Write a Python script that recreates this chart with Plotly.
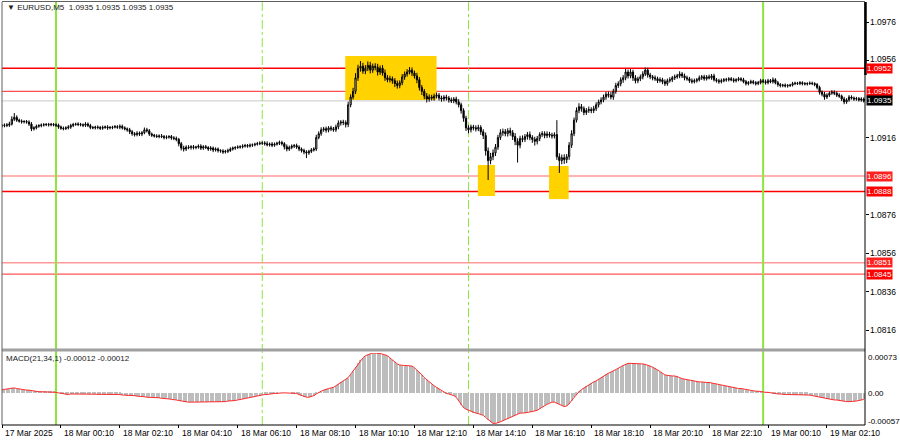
import pandas as pd
import plotly.graph_objects as go

# ---------------- data (prices in 1e-5 above 1.09000) ----------------
closes = [
    222, 225, 224, 230, 255, 265, 250, 245, 242, 243,
    240, 230, 205, 210, 218, 222, 225, 226, 228, 226,
    228, 225, 224, 215, 208, 206, 210, 214, 222, 228,
    230, 228, 226, 224, 230, 222, 212, 210, 214, 212,
    208, 212, 215, 210, 212, 214, 216, 213, 218, 210,
    205, 200, 190, 180, 175, 182, 178, 185, 200, 195,
    178, 172, 168, 165, 168, 165, 160, 162, 165, 158,
    155, 150, 128, 105, 100, 110, 108, 112, 108, 110,
    115, 105, 112, 108, 100, 105, 95, 100, 92, 90,
    85, 88, 92, 100, 105, 108, 110, 112, 115, 118,
    115, 120, 122, 125, 128, 130, 132, 128, 122, 126,
    120, 125, 130, 134, 128, 112, 100, 108, 115, 118,
    110, 100, 92, 85, 80, 88, 95, 100, 160, 180,
    200, 205, 198, 210, 205, 200, 215, 235, 240, 238,
    228, 330, 370, 400, 470, 520, 530, 505, 520, 535,
    510, 530, 525, 500, 520, 495, 470, 460, 465, 455,
    440, 430, 445, 475, 490, 500, 510, 495, 480, 460,
    420, 400, 375, 360, 370, 365, 375, 380, 365, 360,
    370, 365, 355, 350, 360, 345, 330, 300, 260, 210,
    200, 215, 210, 205, 212, 190, 170, 90, 40, 60,
    80, 110, 160, 185, 190, 180, 195, 185, 165, 140,
    120, 155, 150, 165, 175, 160, 150, 140, 155, 175,
    180, 170, 178, 172, 168, 175, 60, 40, 55, 45,
    60, 120, 180, 250, 300, 320, 310, 290, 300, 305,
    300, 310, 330, 345, 355, 370, 385, 380, 370, 400,
    430, 440, 460, 470, 500, 480, 500, 470, 455, 465,
    475, 490, 510, 485, 475, 470, 465, 455, 460, 450,
    440, 455, 460, 470, 475, 480, 490, 480, 470, 465,
    455, 450, 455, 460, 470, 475, 465, 475, 470, 480,
    460, 455, 450, 455, 460, 460, 465, 460, 455, 460,
    465, 460, 450, 440, 445, 450, 445, 440, 445, 455,
    450, 445, 455, 450, 460, 445, 435, 430, 432, 428,
    430, 432, 440, 442, 440, 445, 440, 438, 440, 442,
    440, 435, 420, 395, 385, 370, 380, 390, 395, 390,
    380, 375, 360, 345, 355, 370, 365, 360, 362, 355,
    360, 350,
]
first_open = 220

upper_wick = [
    9, 8, 10, 12, 15, 22, 10, 8, 9, 7, 8, 9, 10, 8, 9, 7, 8, 9, 7, 8,
    8, 7, 9, 8, 7, 9, 8, 10, 9, 8, 7, 9, 8, 7, 10, 8, 9, 8, 7, 9,
    8, 10, 7, 9, 8, 7, 9, 8, 10, 9, 8, 7, 10, 9, 8, 11, 9, 8, 12, 10,
    9, 8, 7, 9, 8, 10, 8, 9, 7, 8, 9, 10, 8, 9, 12, 9, 10, 8, 9, 7,
    9, 10, 8, 9, 7, 10, 8, 9, 8, 7, 9, 8, 10, 9, 8, 7, 9, 8, 10, 9,
    8, 9, 7, 8, 9, 10, 8, 9, 12, 8, 10, 9, 8, 10, 9, 8, 12, 10, 9, 8,
    10, 9, 8, 10, 9, 8, 10, 9, 14, 12, 13, 10, 12, 9, 11, 10, 12, 14, 10, 12,
    11, 16, 14, 18, 24, 18, 27, 18, 16, 20, 18, 14, 16, 18, 14, 16, 18, 14, 16, 12,
    14, 16, 12, 14, 13, 15, 16, 14, 12, 16, 14, 13, 12, 16, 14, 12, 13, 14, 11, 12,
    10, 12, 11, 13, 10, 12, 14, 11, 12, 13, 14, 12, 11, 13, 14, 12, 13, 16, 18, 20,
    18, 16, 14, 18, 16, 14, 13, 16, 14, 18, 16, 14, 16, 13, 14, 16, 12, 14, 13, 12,
    13, 12, 14, 11, 13, 12, 75, 18, 16, 18, 14, 16, 18, 14, 16, 18, 14, 12, 13, 16,
    12, 14, 13, 12, 14, 13, 12, 14, 16, 13, 14, 12, 13, 14, 16, 13, 15, 12, 14, 11,
    12, 14, 13, 12, 11, 10, 12, 11, 13, 10, 12, 11, 13, 10, 12, 11, 14, 10, 12, 11,
    10, 12, 11, 9, 12, 10, 11, 9, 12, 10, 11, 9, 10, 11, 9, 10, 8, 9, 10, 8,
    9, 8, 10, 9, 8, 10, 9, 8, 9, 10, 9, 11, 10, 9, 12, 8, 9, 8, 7, 9,
    8, 7, 9, 8, 7, 8, 7, 8, 7, 9, 8, 7, 8, 9, 10, 12, 10, 9, 11, 10,
    9, 10, 8, 11, 9, 10, 9, 8, 9, 8, 9, 8,
]
lower_wick = [
    8, 9, 10, 9, 8, 10, 9, 8, 10, 9, 8, 10, 12, 9, 8, 7, 9, 8, 7, 9,
    8, 7, 9, 10, 8, 9, 7, 8, 9, 8, 7, 9, 8, 10, 9, 8, 9, 7, 8, 9,
    9, 8, 7, 10, 8, 9, 7, 8, 10, 9, 8, 10, 12, 11, 10, 9, 10, 11, 8, 9,
    10, 9, 8, 7, 9, 8, 10, 9, 8, 10, 9, 10, 14, 12, 13, 10, 9, 11, 10, 9,
    8, 10, 9, 8, 10, 9, 11, 8, 10, 9, 10, 8, 9, 7, 8, 9, 7, 8, 9, 7,
    8, 7, 9, 8, 7, 8, 9, 10, 8, 9, 10, 8, 7, 9, 10, 14, 12, 10, 9, 10,
    9, 11, 10, 12, 27, 10, 9, 8, 10, 9, 11, 10, 13, 11, 12, 10, 11, 12, 13, 14,
    16, 14, 13, 12, 14, 16, 18, 14, 16, 15, 17, 14, 16, 18, 15, 14, 16, 13, 14, 16,
    18, 16, 14, 13, 15, 14, 12, 16, 14, 18, 16, 19, 16, 18, 14, 13, 14, 12, 13, 14,
    12, 13, 14, 11, 12, 13, 14, 16, 18, 16, 18, 14, 13, 14, 12, 16, 18, 24, 101, 19,
    18, 16, 14, 13, 16, 14, 15, 16, 18, 20, 90, 16, 14, 13, 16, 14, 18, 22, 16, 14,
    12, 14, 13, 12, 14, 13, 16, 64, 19, 22, 18, 16, 14, 13, 12, 14, 16, 14, 13, 12,
    14, 13, 12, 14, 13, 12, 14, 13, 12, 14, 13, 12, 14, 16, 13, 14, 12, 16, 14, 13,
    12, 13, 11, 14, 12, 13, 11, 12, 10, 13, 12, 11, 10, 12, 11, 10, 12, 11, 13, 10,
    11, 10, 9, 10, 9, 11, 10, 9, 8, 10, 9, 10, 11, 9, 8, 10, 9, 8, 10, 9,
    8, 9, 8, 10, 9, 8, 9, 10, 8, 9, 8, 10, 9, 8, 10, 9, 11, 10, 9, 8,
    9, 8, 7, 8, 7, 8, 9, 7, 8, 7, 8, 9, 10, 12, 11, 14, 10, 9, 8, 10,
    10, 9, 11, 12, 10, 9, 8, 10, 9, 8, 9, 8,
]

# MACD(21,34,1) main value in 1e-5 units
macd = [
    6, 6, 7, 8, 9, 9, 8, 7, 6, 5, 5, 5, 4, 3, 3, 2, 2, 2, 2, 2,
    2, 2, 1, 0, -1, -2, -3, -3, -2, -2, -2, -2, -2, -2, -2, -2, -2, -2, -2, -3,
    -3, -3, -3, -3, -3, -3, -3, -3, -3, -4, -4, -5, -5, -5, -5, -6, -6, -7, -7, -8,
    -8, -8, -9, -9, -9, -10, -10, -10, -11, -12, -12, -13, -14, -15, -16, -16, -17, -17, -17, -17,
    -17, -17, -17, -17, -17, -17, -17, -17, -17, -17, -17, -16, -15, -15, -14, -14, -13, -12, -11, -10,
    -9, -8, -7, -6, -5, -5, -4, -3, -3, -2, -2, -1, -1, 0, 0, 0, 0, 0, -1, -1,
    -1, -3, -5, -7, -8, -8, -7, -5, -2, 1, 3, 5, 7, 8, 9, 10, 13, 16, 19, 22,
    25, 28, 34, 40, 47, 54, 60, 64, 68, 70, 72, 73, 73, 73, 72, 71, 70, 68, 64, 60,
    56, 53, 51, 50, 50, 50, 50, 49, 46, 42, 38, 33, 28, 24, 20, 16, 13, 10, 7, 4,
    1, -1, -2, -3, -5, -8, -14, -22, -27, -30, -32, -34, -36, -37, -38, -39, -41, -45, -49, -53,
    -56, -56, -55, -53, -51, -49, -47, -44, -42, -40, -38, -37, -37, -37, -36, -35, -34, -33, -32, -29,
    -26, -23, -21, -19, -17, -17, -19, -21, -23, -25, -24, -20, -14, -8, -3, 2, 6, 9, 12, 15,
    18, 20, 22, 25, 28, 31, 34, 36, 38, 40, 42, 45, 48, 50, 52, 54, 54, 54, 53, 53,
    53, 53, 52, 51, 49, 47, 45, 42, 39, 36, 33, 32, 31, 31, 31, 30, 28, 26, 25, 24,
    23, 23, 22, 21, 20, 20, 19, 19, 19, 18, 17, 16, 15, 14, 13, 13, 12, 11, 10, 9,
    8, 8, 7, 6, 5, 4, 4, 3, 3, 2, 2, 1, 1, 0, -1, -1, -2, -2, -3, -3,
    -3, -3, -3, -3, -3, -3, -3, -3, -3, -4, -5, -6, -7, -8, -9, -10, -11, -12, -12, -13,
    -13, -14, -15, -15, -16, -16, -16, -15, -15, -14, -13, -12,
]

start_time = "2025-03-17 22:10"
bar_minutes = 5

price_ticks = [1.0976, 1.0956, 1.0916, 1.0876, 1.0856, 1.0836, 1.0816]
level_prices = [1.0952, 1.0940, 1.0896, 1.0888, 1.0851, 1.0845]
level_colors = ["#ff0000", "#ff5050", "#ff9a9a", "#ff0000", "#ff9a9a", "#ff5555"]
level_widths = [1.5, 1.2, 1.5, 1.5, 1.5, 1.2]
bid_price = 1.0935

time_labels = ["17 Mar 2025", "18 Mar 00:10", "18 Mar 02:10", "18 Mar 04:10", "18 Mar 06:10",
               "18 Mar 08:10", "18 Mar 10:10", "18 Mar 12:10", "18 Mar 14:10", "18 Mar 16:10",
               "18 Mar 18:10", "18 Mar 20:10", "18 Mar 22:10", "19 Mar 00:10", "19 Mar 02:10"]
time_label_at = ["2025-03-17 22:10", "2025-03-18 00:10", "2025-03-18 02:10", "2025-03-18 04:10",
                 "2025-03-18 06:10", "2025-03-18 08:10", "2025-03-18 10:10", "2025-03-18 12:10",
                 "2025-03-18 14:10", "2025-03-18 16:10", "2025-03-18 18:10", "2025-03-18 20:10",
                 "2025-03-18 22:10", "2025-03-19 00:10", "2025-03-19 02:10"]

day_lines = ["2025-03-18 00:00", "2025-03-19 00:00"]
session_lines = ["2025-03-18 07:00", "2025-03-18 14:00"]

# highlighted zones: (start, end, top price, bottom price)
zones = [
    ("2025-03-18 09:49", "2025-03-18 12:55", 1.09583, 1.09355),
    ("2025-03-18 14:19", "2025-03-18 14:54", 1.09017, 1.08856),
    ("2025-03-18 16:44", "2025-03-18 17:24", 1.09012, 1.08840),
]

macd_range = [-0.00057, 0.00073]
macd_tick_labels = ["0.00073", "0.00", "-0.00057"]
header = "\u25bc EURUSD,M5  1.0935 1.0935 1.0935 1.0935"
macd_title = "MACD(21,34,1) -0.00012 -0.00012"

# ---------------- build ----------------
n = len(closes)
assert len(upper_wick) == n, ("uw", len(upper_wick), n)
assert len(lower_wick) == n, ("lw", len(lower_wick), n)
assert len(macd) == n, ("macd", len(macd), n)

times = pd.date_range(start_time, periods=n, freq=f"{bar_minutes}min")
cl = [1.09 + c / 100000 for c in closes]
op = [1.09 + first_open / 100000] + cl[:-1]
hi = [max(o, c) + u / 100000 for o, c, u in zip(op, cl, upper_wick)]
lo = [min(o, c) - l / 100000 for o, c, l in zip(op, cl, lower_wick)]
mv = [m / 100000 for m in macd]

FONT = "Liberation Sans"
FS = 8.5
FS_T = 8
W, H = 900, 441
def px_x(p): return p / W
def px_y(p): return 1 - p / H

left_px, right_px = 2, 865
main_top, main_bot = 2, 349
macd_top, macd_bot = 353, 424

t0 = times[0]
x_range = [t0, t0 + pd.Timedelta(minutes=bar_minutes * 351.5)]
pmax = 1.0976 + (22 - main_top) / 19250
pmin = 1.0976 - (main_bot - 22) / 19250

fig = go.Figure()
fig.add_trace(go.Bar(x=times, y=mv, marker=dict(color="#bdbdbd", line=dict(width=0)),
                     width=bar_minutes * 60000 * 0.45, xaxis="x2", yaxis="y2", showlegend=False))
fig.add_trace(go.Scatter(x=times, y=mv, mode="lines", line=dict(color="#ff2a2a", width=1),
                         xaxis="x2", yaxis="y2", showlegend=False))
fig.add_trace(go.Candlestick(x=times, open=op, high=hi, low=lo, close=cl,
                             increasing=dict(line=dict(color="#000000", width=1), fillcolor="#ffffff"),
                             decreasing=dict(line=dict(color="#000000", width=1), fillcolor="#000000"),
                             whiskerwidth=0, xaxis="x", yaxis="y", showlegend=False))

shapes = []
for s, e, top, bot in zones:
    shapes.append(dict(type="rect", xref="x", yref="y", x0=s, x1=e, y0=bot, y1=top,
                       fillcolor="#ffd200", line=dict(width=0), layer="below"))
shapes.append(dict(type="line", xref="paper", yref="y", x0=px_x(left_px), x1=px_x(right_px),
                   y0=bid_price, y1=bid_price, line=dict(color="#c8c8c8", width=1), layer="below"))
for p, c, w in zip(level_prices, level_colors, level_widths):
    shapes.append(dict(type="line", xref="paper", yref="y", x0=px_x(left_px), x1=px_x(right_px),
                       y0=p, y1=p, line=dict(color=c, width=w), layer="below"))
for d in day_lines:
    shapes.append(dict(type="line", xref="x", yref="paper", x0=d, x1=d, y0=px_y(macd_bot + 1),
                       y1=px_y(main_top), line=dict(color="#8ee63c", width=2), layer="below"))
for d in session_lines:
    shapes.append(dict(type="line", xref="x", yref="paper", x0=d, x1=d, y0=px_y(macd_bot + 1),
                       y1=px_y(main_top), line=dict(color="#8ee63c", width=1, dash="dashdot"), layer="below"))
# panel separator and frame
shapes.append(dict(type="rect", xref="paper", yref="paper", x0=px_x(left_px), x1=px_x(right_px),
                   y0=px_y(351.5), y1=px_y(348.5), fillcolor="#a0a0a0", line=dict(width=0)))
shapes.append(dict(type="line", xref="paper", yref="paper", x0=px_x(left_px), x1=px_x(left_px),
                   y0=px_y(macd_bot + 1), y1=px_y(main_top), line=dict(color="#606060", width=1)))
shapes.append(dict(type="line", xref="paper", yref="paper", x0=px_x(left_px), x1=px_x(right_px),
                   y0=px_y(1.5), y1=px_y(1.5), line=dict(color="#606060", width=1)))
shapes.append(dict(type="line", xref="paper", yref="paper", x0=px_x(right_px), x1=px_x(right_px),
                   y0=px_y(macd_bot + 1), y1=px_y(main_top), line=dict(color="#000000", width=1)))
shapes.append(dict(type="line", xref="paper", yref="paper", x0=px_x(right_px + 0.5), x1=px_x(right_px + 0.5),
                   y0=px_y(75), y1=px_y(main_top), line=dict(color="#000000", width=2.5)))
shapes.append(dict(type="line", xref="paper", yref="paper", x0=px_x(left_px), x1=px_x(right_px),
                   y0=px_y(macd_bot + 1), y1=px_y(macd_bot + 1), line=dict(color="#000000", width=1)))

annotations = []
font = dict(family=FONT, size=FS, color="#000000")
for p in price_ticks:
    annotations.append(dict(xref="paper", yref="y", x=px_x(right_px + 3), y=p, xanchor="left",
                            yanchor="middle", text=f"{p:.4f}", showarrow=False, font=font,
                            yshift=1 if p == 1.0956 else 0))
for p, c in zip(level_prices, level_colors):
    annotations.append(dict(xref="paper", yref="y", x=px_x(right_px + 1), y=p, xanchor="left",
                            yanchor="middle", text=f"{p:.4f}", showarrow=False,
                            font=dict(family=FONT, size=8, color="#ffffff"),
                            bgcolor="#ff0000" if c in ("#ff0000", "#ff5050", "#ff5555") else "#ff2020",
                            borderpad=0))
annotations.append(dict(xref="paper", yref="y", x=px_x(right_px + 1), y=bid_price, xanchor="left",
                        yanchor="middle", text=f"{bid_price:.4f}", showarrow=False,
                        font=dict(family=FONT, size=8, color="#ffffff"), bgcolor="#000000", borderpad=0))
for lab, t in zip(time_labels, time_label_at):
    annotations.append(dict(xref="x2", yref="paper", x=t, y=px_y(433), xanchor="left",
                            yanchor="middle", xshift=1, text=lab, showarrow=False, font=font))
for lab, yp in zip(macd_tick_labels, [357, 393, 421]):
    annotations.append(dict(xref="paper", yref="paper", x=px_x(right_px + 1), y=px_y(yp), xanchor="left",
                            yanchor="middle", text=lab, showarrow=False,
                            font=dict(family=FONT, size=8, color="#000000")))
annotations.append(dict(xref="paper", yref="paper", x=px_x(5), y=px_y(7.5), xanchor="left", yanchor="middle",
                        text=header, showarrow=False, font=dict(family=FONT, size=FS_T, color="#202020")))
annotations.append(dict(xref="paper", yref="paper", x=px_x(4), y=px_y(358), xanchor="left", yanchor="middle",
                        text=macd_title, showarrow=False, font=dict(family=FONT, size=FS_T, color="#202020")))

fig.update_layout(
    width=W, height=H, margin=dict(l=0, r=0, t=0, b=0),
    paper_bgcolor="#ffffff", plot_bgcolor="#ffffff", showlegend=False,
    bargap=0,
    xaxis=dict(domain=[px_x(left_px), px_x(right_px)], range=x_range, anchor="y",
               showticklabels=False, showgrid=False, zeroline=False, rangeslider=dict(visible=False)),
    xaxis2=dict(domain=[px_x(left_px), px_x(right_px)], range=x_range, anchor="y2", matches="x",
                showticklabels=False, showgrid=False, zeroline=False, ticks="outside", ticklen=3,
                tickcolor="#000000", tickvals=time_label_at),
    yaxis=dict(domain=[px_y(main_bot), px_y(main_top)], range=[pmin, pmax], side="right",
               showticklabels=False, showgrid=False, zeroline=False, ticks="outside", ticklen=3,
               tickcolor="#000000", tickvals=price_ticks, anchor="x"),
    yaxis2=dict(domain=[px_y(macd_bot), px_y(macd_top)], range=macd_range, side="right",
                showticklabels=False, showgrid=False, zeroline=False, anchor="x2"),
    shapes=shapes, annotations=annotations,
)
fig.write_html("out.html", config={"displayModeBar": False},
               post_script="document.body.style.margin='0';document.body.style.overflow='hidden';")
